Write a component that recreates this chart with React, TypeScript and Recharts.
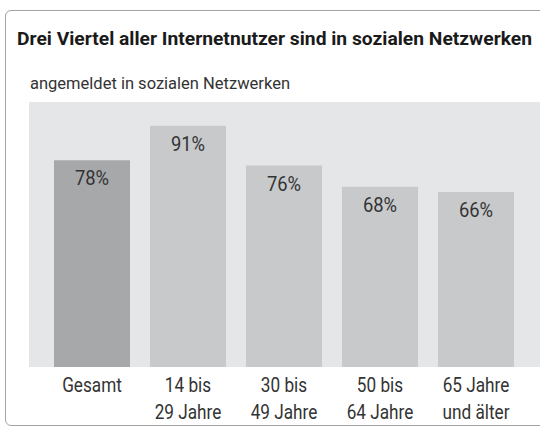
import * as React from 'react'
import { BarChart, Bar, XAxis, YAxis, Cell, LabelList } from 'recharts'

const categories = ['Gesamt', '14 bis 29 Jahre', '30 bis 49 Jahre', '50 bis 64 Jahre', '65 Jahre und älter']
const tickLine1 = ['Gesamt', '14 bis', '30 bis', '50 bis', '65 Jahre']
const tickLine2 = ['', '29 Jahre', '49 Jahre', '64 Jahre', 'und älter']
const values = [78, 91, 76, 68, 66]

const TITLE = 'Drei Viertel aller Internetnutzer sind in sozialen Netzwerken'
const SUBTITLE = 'angemeldet in sozialen Netzwerken'

const FONT = 'Roboto, "Noto Sans", sans-serif'
const TOTAL_COLOR = '#a7a8aa'
const BAR_COLOR = '#c8c9cb'
const PANEL_BG = '#e5e6e8'
const TEXT = '#333333'

const data = categories.map((c, i) => ({ name: c, value: values[i] }))

// the source uses a condensed face; squeeze Roboto horizontally
function Label({ x, y, children, size = 20, squeeze = 0.86 }: any) {
  return (
    <text
      transform={`translate(${x},${y}) scale(${squeeze},1)`}
      textAnchor="middle"
      fill={TEXT}
      fontSize={size}
      fontFamily={FONT}
    >
      {children}
    </text>
  )
}

function Tick(props: any) {
  const { x, y, payload } = props
  const i = payload.index
  return (
    <g>
      <Label x={x} y={y + 25}>{tickLine1[i]}</Label>
      {tickLine2[i] ? <Label x={x} y={y + 52}>{tickLine2[i]}</Label> : null}
    </g>
  )
}

function ValueLabel(props: any) {
  const { x, y, width, value } = props
  return (
    <Label x={x + width / 2} y={y + 25} squeeze={0.92}>
      {value}%
    </Label>
  )
}

export default function App() {
  return (
    <div style={{ position: 'absolute', left: 0, top: 0, width: 540, height: 428, overflow: 'hidden', background: '#fff' }}>
      <div
        style={{
          position: 'absolute',
          left: 5,
          top: 10,
          width: 560,
          height: 414,
          border: '1px solid #a3a3a3',
          borderRadius: 6,
        }}
      />
      <svg width={540} height={100} style={{ position: 'absolute', left: 0, top: 0 }}>
        <text
          x={17}
          y={45}
          textLength={515}
          lengthAdjust="spacingAndGlyphs"
          fontFamily={FONT}
          fontWeight="bold"
          fontSize={18}
          fill="#1a1a1a"
        >
          {TITLE}
        </text>
        <text
          x={30}
          y={89}
          textLength={260}
          lengthAdjust="spacingAndGlyphs"
          fontFamily={FONT}
          fontSize={16}
          fill={TEXT}
        >
          {SUBTITLE}
        </text>
      </svg>
      <div style={{ position: 'absolute', left: 29, top: 102, width: 511, height: 265, background: PANEL_BG }} />
      <div style={{ position: 'absolute', left: 0, top: 0 }}>
        <BarChart width={540} height={428} data={data} margin={{ top: 102, right: 16, left: 44, bottom: 0 }}>
          <XAxis
            dataKey="name"
            axisLine={false}
            tickLine={false}
            tickSize={0}
            tickMargin={0}
            height={61}
            interval={0}
            tick={<Tick />}
          />
          <YAxis hide domain={[0, 100]} />
          <Bar dataKey="value" barSize={76} isAnimationActive={false}>
            {data.map((d, i) => (
              <Cell key={i} fill={i === 0 ? TOTAL_COLOR : BAR_COLOR} />
            ))}
            <LabelList dataKey="value" content={<ValueLabel />} />
          </Bar>
        </BarChart>
      </div>
    </div>
  )
}
